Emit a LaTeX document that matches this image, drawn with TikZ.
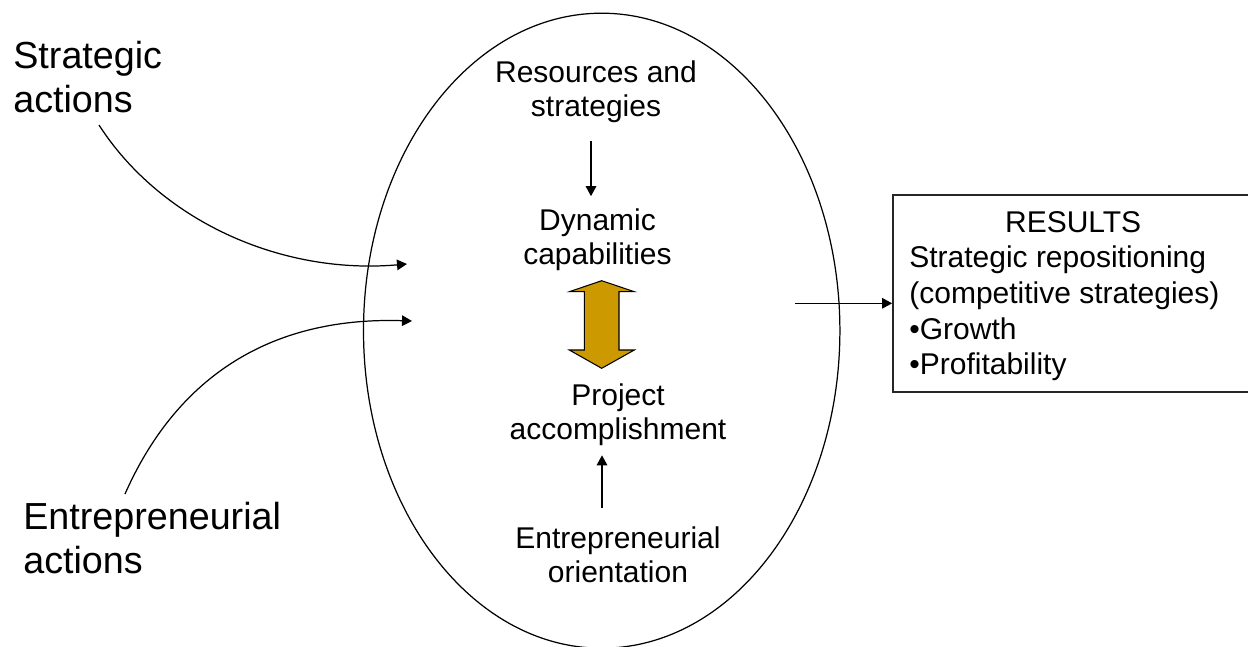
\documentclass[tikz,border=0pt]{standalone}
\usepackage{fontspec}
\setmainfont{Liberation Sans}
\usetikzlibrary{arrows.meta,calc,fit}
\definecolor{gold}{HTML}{CC9900}
% multi-line text whose baseline is that of its first line
\newcommand{\mlines}[2]{\begin{tabular}[t]{@{}#1@{}}#2\end{tabular}}
\begin{document}
\begin{tikzpicture}[x=0.02cm,y=-0.02cm,
  biglbl/.style={inner sep=0pt, anchor=base west, font=\fontsize{21.45}{25.6}\selectfont},
  inlbl/.style={inner sep=0pt, anchor=base, font=\fontsize{17.07}{19.9}\selectfont},
  boxlbl/.style={inner sep=0pt, anchor=base west, font=\fontsize{17.07}{20.34}\selectfont},
  tip/.style={-{Triangle[length=5.7pt,width=6pt]}, line width=0.7pt},
  thin/.style={line width=0.7pt}]
\useasboundingbox (0,0) rectangle (1248,646);

% central oval
\draw[thin] (601.7,330.7) ellipse [x radius=238.2, y radius=317.5];

% side labels
\node[biglbl] (sa) at (13,68) {\mlines{l}{Strategic\\actions}};
\node[biglbl] (ea) at (23,529) {\mlines{l}{Entrepreneurial\\actions}};

% labels inside the oval
\node[inlbl] (res)  at (596,82)    {\mlines{c}{Resources and\\strategies}};
\node[inlbl] (dyn)  at (597.5,230) {\mlines{c}{Dynamic\\capabilities}};
\node[inlbl] (proj) at (618,405)   {\mlines{c}{Project\\accomplishment}};
\node[inlbl] (eo)   at (618,548)   {\mlines{c}{Entrepreneurial\\orientation}};

% results box
\node[draw=black!85, line width=1pt, inner sep=0pt, fit={(893,195) (1262,392)}] (resbox) {};
\node[boxlbl] (restext) at (909,232) {\mlines{l}{\multicolumn{1}{@{}c@{}}{\hspace{10pt}RESULTS}\\
  Strategic repositioning\\(competitive strategies)\\•Growth\\•Profitability}};

% curved arrows from the side labels into the oval
\coordinate (sa-tail) at (99,125);
\coordinate (sa-head) at (407,264);
\coordinate (ea-tail) at (125,494);
\coordinate (ea-head) at (412,321);
\draw[tip] (sa-tail) .. controls (160,220) and (280,275) .. (sa-head);
\draw[tip] (ea-tail) .. controls (170,392) and (255,316) .. (ea-head);

% arrows inside the oval
\draw[tip] ($(res.south)+(-5,13)$) -- ($(dyn.north)+(-6.5,-9)$);
\draw[tip] ($(eo.north)+(-16,-15.5)$) -- ($(proj.south)+(-16,4.5)$);

% two-headed block arrow between capabilities and accomplishment
\draw[fill=gold, line width=0.6pt, line join=miter]
  (601.7,280.7) -- (634.3,291.7) -- (619,291.7) -- (619,350) -- (634.3,350)
  -- (601.7,368.3) -- (569.3,350) -- (584.3,350) -- (584.3,291.7)
  -- (569.3,291.7) -- cycle;

% arrow from the oval to the results
\coordinate (oval-out) at (795,303.3);
\draw[tip] (oval-out) -- (oval-out -| resbox.west);
\end{tikzpicture}
\end{document}
